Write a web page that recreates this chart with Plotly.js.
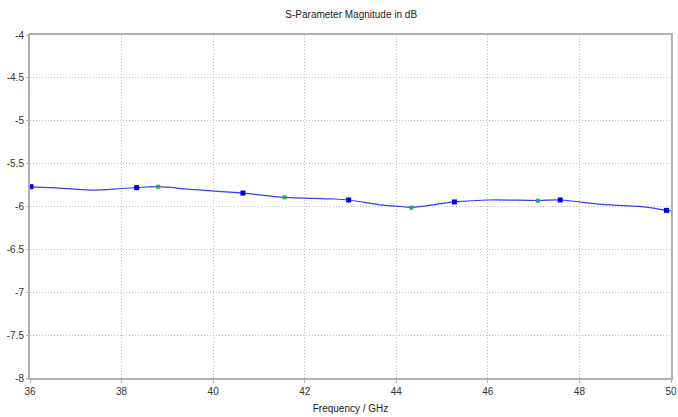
<!DOCTYPE html>
<html><head><meta charset="utf-8">
<script src="https://cdn.plot.ly/plotly-3.0.1.min.js"></script>
<style>body{margin:0;background:#fff}#c{width:678px;height:417px}</style>
</head><body><div id="c"></div>
<script>
const curveX = [36, 36.5, 37.34, 38.0, 38.33, 38.8, 39.5, 40.65, 41.56, 42.5, 42.96, 43.7, 44.1, 44.33, 45.27, 46.0, 47.09, 47.58, 48.5, 49.5, 49.9, 50];
const curveY = [-5.77, -5.78, -5.808, -5.79, -5.78, -5.769, -5.80, -5.843, -5.893, -5.91, -5.924, -5.985, -6.0, -6.01, -5.947, -5.924, -5.93, -5.924, -5.975, -6.01, -6.045, -6.05];
const blueX = [36.02, 38.33, 40.65, 42.96, 45.27, 47.58, 49.9];
const blueY = [-5.769, -5.78, -5.843, -5.924, -5.947, -5.924, -6.045];
const greenX = [38.8, 41.56, 44.33, 47.09];
const greenY = [-5.769, -5.893, -6.014, -5.932];
const xTicks = [36, 38, 40, 42, 44, 46, 48, 50];
const yTicks = [-4, -4.5, -5, -5.5, -6, -6.5, -7, -7.5, -8];

const traces = [
  {x: curveX, y: curveY, mode: 'lines', line: {color: '#3a3aff', width: 1.2, shape: 'spline', smoothing: 1}, hoverinfo: 'skip'},
  {x: blueX, y: blueY, mode: 'markers', marker: {color: '#0000e0', size: 5, symbol: 'square'}},
  {x: greenX, y: greenY, mode: 'markers', marker: {color: '#22aa44', size: 4, symbol: 'square'}}
];
const axisCommon = {
  showline: true, linecolor: '#b0b0b0', linewidth: 2, mirror: true,
  showgrid: true, gridcolor: '#c0c0c0', griddash: '1px,2px', gridwidth: 1,
  zeroline: false, tickfont: {family: 'Liberation Sans, Arial, sans-serif', size: 10, color: '#333'},
  ticks: 'outside', ticklen: 3, tickcolor: '#b0b0b0', ticklabeloverflow: 'allow'
};
const layout = {
  width: 678, height: 417,
  margin: {l: 30, r: 7, t: 35, b: 39},
  paper_bgcolor: '#fff', plot_bgcolor: '#fff',
  showlegend: false,
  title: {text: 'S-Parameter Magnitude in dB', x: 0.518, xanchor: 'center', y: 0.965, yanchor: 'middle',
          font: {family: 'Liberation Sans, Arial, sans-serif', size: 10, color: '#222'}},
  xaxis: Object.assign({}, axisCommon, {range: [36, 50], tickvals: xTicks, ticktext: xTicks.map(String),
          title: {text: 'Frequency / GHz', standoff: 9, font: {family: 'Liberation Sans, Arial, sans-serif', size: 10, color: '#222'}}}),
  yaxis: Object.assign({}, axisCommon, {range: [-8, -4], tickvals: yTicks, ticktext: yTicks.map(String), ticks: 'outside', ticklen: 2})
};
Plotly.newPlot('c', traces, layout, {staticPlot: true, displayModeBar: false});
</script></body></html>
